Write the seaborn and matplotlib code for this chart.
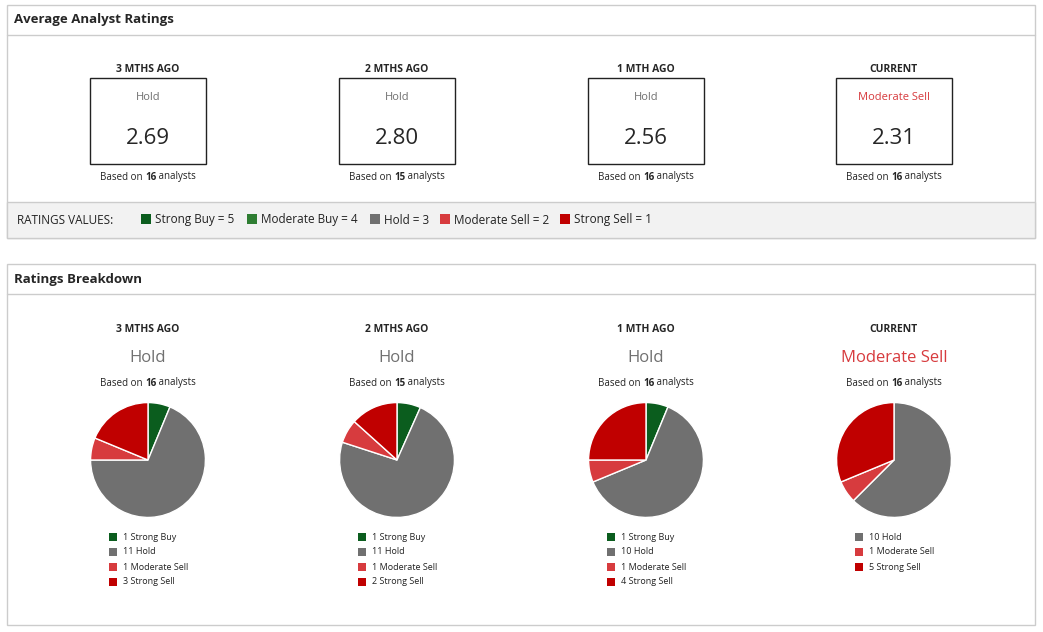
import matplotlib.pyplot as plt
import seaborn as sns
from matplotlib.patches import Rectangle

PERIODS = ["3 MTHS AGO", "2 MTHS AGO", "1 MTH AGO", "CURRENT"]
RATING_LABELS = ["Hold", "Hold", "Hold", "Moderate Sell"]
AVG_SCORES = [2.69, 2.80, 2.56, 2.31]
ANALYSTS = [16, 15, 16, 16]
CATEGORIES = ["Strong Buy", "Hold", "Moderate Sell", "Strong Sell"]
COUNTS = [
    [1, 11, 1, 3],
    [1, 11, 1, 2],
    [1, 10, 1, 4],
    [0, 10, 1, 5],
]
VALUE_NAMES = ["Strong Buy = 5", "Moderate Buy = 4", "Hold = 3", "Moderate Sell = 2", "Strong Sell = 1"]

COLORS = {"Strong Buy": "#0b5d1e", "Moderate Buy": "#2e7d32", "Hold": "#707070",
          "Moderate Sell": "#d73b3e", "Strong Sell": "#c00000"}
LABEL_COLORS = {"Hold": "#707070", "Moderate Sell": "#d73b3e"}
CENTERS = [148, 397, 646, 894]

sns.set_theme(style="white")
plt.rcParams["font.family"] = ["Open Sans", "DejaVu Sans"]

W, H = 1043, 632
fig = plt.figure(figsize=(W / 100, H / 100), dpi=100)
ax = fig.add_axes([0, 0, 1, 1])
ax.set_xlim(0, W)
ax.set_ylim(H, 0)
ax.axis("off")

edge = "#cccccc"
# panels
ax.add_patch(Rectangle((7, 5), 1028, 233, fill=False, ec=edge, lw=1))
ax.plot([7, 1035], [35, 35], color=edge, lw=1)
ax.add_patch(Rectangle((7, 202), 1028, 36, fc="#f2f2f2", ec=edge, lw=1))
ax.text(14, 20, "Average Analyst Ratings", fontsize=9.5, fontweight="bold", va="center")
ax.add_patch(Rectangle((7, 264), 1028, 361, fill=False, ec=edge, lw=1))
ax.plot([7, 1035], [294, 294], color=edge, lw=1)
ax.text(14, 280, "Ratings Breakdown", fontsize=9.5, fontweight="bold", va="center")


def based_on(x, y, n):
    t1 = ax.text(x - 48, y, "Based on ", fontsize=7, va="center", color="#222222")
    t2 = ax.annotate(str(n), xy=(1, 0), xycoords=t1, va="bottom", fontsize=7, fontweight="bold")
    ax.annotate(" analysts", xy=(1, 0), xycoords=t2, va="bottom", fontsize=7, color="#222222")


for i, cx in enumerate(CENTERS):
    lc = LABEL_COLORS[RATING_LABELS[i]]
    # top boxes
    ax.text(cx, 70, PERIODS[i], ha="center", va="center", fontsize=7.5, fontweight="bold")
    ax.add_patch(Rectangle((cx - 58, 78), 116, 86, fill=False, ec="#222222", lw=1))
    ax.text(cx, 97, RATING_LABELS[i], ha="center", va="center", fontsize=8, color=lc)
    ax.text(cx, 139, f"{AVG_SCORES[i]:.2f}", ha="center", va="center", fontsize=16)
    based_on(cx, 177, ANALYSTS[i])
    # breakdown
    ax.text(cx, 329, PERIODS[i], ha="center", va="center", fontsize=7.5, fontweight="bold")
    ax.text(cx, 358, RATING_LABELS[i], ha="center", va="center", fontsize=12, color=lc)
    based_on(cx, 383, ANALYSTS[i])

    vals = [v for v in COUNTS[i] if v > 0]
    cats = [c for c, v in zip(CATEGORIES, COUNTS[i]) if v > 0]
    r = 58
    pax = fig.add_axes([(cx - r) / W, 1 - (460 + r) / H, 2 * r / W, 2 * r / H])
    pax.pie(vals, colors=[COLORS[c] for c in cats], startangle=90, counterclock=False,
            wedgeprops=dict(edgecolor="white", linewidth=1))
    pax.set_xlim(-1.01, 1.01)
    pax.set_ylim(-1.01, 1.01)
    pax.set_aspect("equal")

    for j, (c, v) in enumerate(zip(cats, vals)):
        y = 537 + 15 * j
        ax.add_patch(Rectangle((cx - 39, y - 4), 8, 8, fc=COLORS[c], ec="none"))
        ax.text(cx - 25, y, f"{v} {c}", va="center", fontsize=6.5, color="#222222")

# ratings values strip
ax.text(17, 220, "RATINGS VALUES:", va="center", fontsize=8.5, color="#222222")
xs = [141, 247, 370, 440, 560]
for x, name in zip(xs, VALUE_NAMES):
    key = name.split(" =")[0]
    ax.add_patch(Rectangle((x, 214), 10, 10, fc=COLORS[key], ec="none"))
    ax.text(x + 14, 220, name, va="center", fontsize=8.5, color="#222222")

fig.savefig("out.png", dpi=100)
